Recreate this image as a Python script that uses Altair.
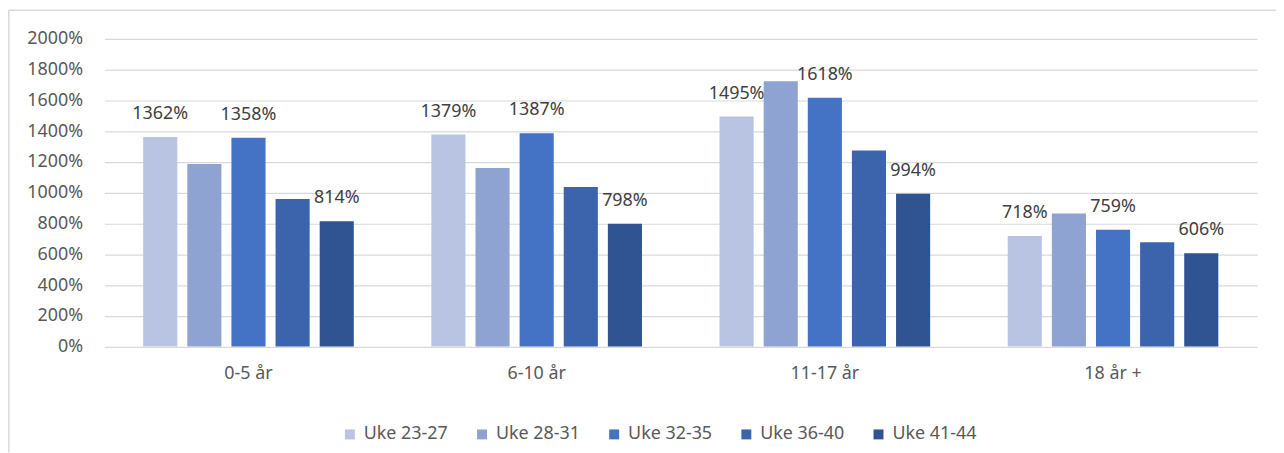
import altair as alt
import pandas as pd

groups = ["0-5 år", "6-10 år", "11-17 år", "18 år +"]
series = ["Uke 23-27", "Uke 28-31", "Uke 32-35", "Uke 36-40", "Uke 41-44"]
uke_23_27 = [1362, 1379, 1495, 718]
uke_28_31 = [1187, 1161, 1724, 865]
uke_32_35 = [1358, 1387, 1618, 759]
uke_36_40 = [960, 1038, 1275, 678]
uke_41_44 = [814, 798, 994, 606]
labelled = ["Uke 23-27", "Uke 32-35", "Uke 41-44"]
colors = ["#B9C3E2", "#8FA3D3", "#4472C4", "#3B64AD", "#305492"]
y_ticks = list(range(0, 2001, 200))

rows = []
for s, vals in zip(series, [uke_23_27, uke_28_31, uke_32_35, uke_36_40, uke_41_44]):
    for g, v in zip(groups, vals):
        rows.append({"group": g, "series": s, "value": v,
                     "label": f"{v}%" if s in labelled else ""})
df = pd.DataFrame(rows)

FONT = "Noto Sans"

x_enc = alt.X("group:N", sort=groups,
              scale=alt.Scale(domain=groups, paddingInner=0, paddingOuter=0),
              axis=alt.Axis(title=None, labelAngle=0, ticks=False, domain=False,
                            labelPadding=18, labelFontSize=18, labelColor="#595959",
                            labelFont=FONT))
xoff = alt.XOffset("series:N", sort=series,
                   scale=alt.Scale(domain=series, paddingInner=0.227, paddingOuter=0.879))
y_enc = alt.Y("value:Q",
              scale=alt.Scale(domain=[0, 2000], nice=False, zero=True),
              axis=alt.Axis(title=None, values=y_ticks, labelExpr="datum.value + '%'",
                            labelOverlap=False, tickCount=11,
                            ticks=False, domain=False, grid=True, gridColor="#D9D9D9",
                            gridWidth=1.2, labelPadding=22, labelFontSize=18,
                            labelColor="#595959", labelFont=FONT))

bars = alt.Chart(df).mark_bar().encode(
    x=x_enc, xOffset=xoff, y=y_enc,
    color=alt.Color("series:N", sort=series,
                    scale=alt.Scale(domain=series, range=colors),
                    legend=alt.Legend(title=None, orient="none", direction="horizontal",
                                      columns=5, legendX=238, legendY=389,
                                      symbolType="square", symbolSize=100,
                                      symbolStrokeWidth=0, labelFontSize=18,
                                      labelFont=FONT, labelColor="#595959",
                                      labelOffset=5, columnPadding=25, padding=0))
)

texts = alt.Chart(df).mark_text(baseline="middle", dy=-23, fontSize=18, font=FONT,
                                color="#404040").encode(
    x=alt.X("group:N", sort=groups),
    xOffset=alt.XOffset("series:N", sort=series),
    y=alt.Y("value:Q"),
    text=alt.Text("label:N"),
)

one = alt.Data(values=[{"k": 1}])
top_border = alt.Chart(one).mark_rule(color="#D9D9D9", strokeWidth=1.5).encode(
    x=alt.value(-96.2), x2=alt.value(1179), y=alt.value(-28.9))
left_border = alt.Chart(one).mark_rule(color="#D9D9D9", strokeWidth=1.5).encode(
    x=alt.value(-96.2), y=alt.value(-28.9), y2=alt.value(416))

chart = alt.layer(bars, texts, top_border, left_border).properties(
    width=1160, height=309.6,
    autosize=alt.AutoSizeParams(type="none"),
    padding={"left": 97, "top": 29.7, "right": 19, "bottom": 106},
    background="white",
).configure_view(stroke=None)

chart.save("out.html", embed_options={"renderer": "svg", "actions": False})
